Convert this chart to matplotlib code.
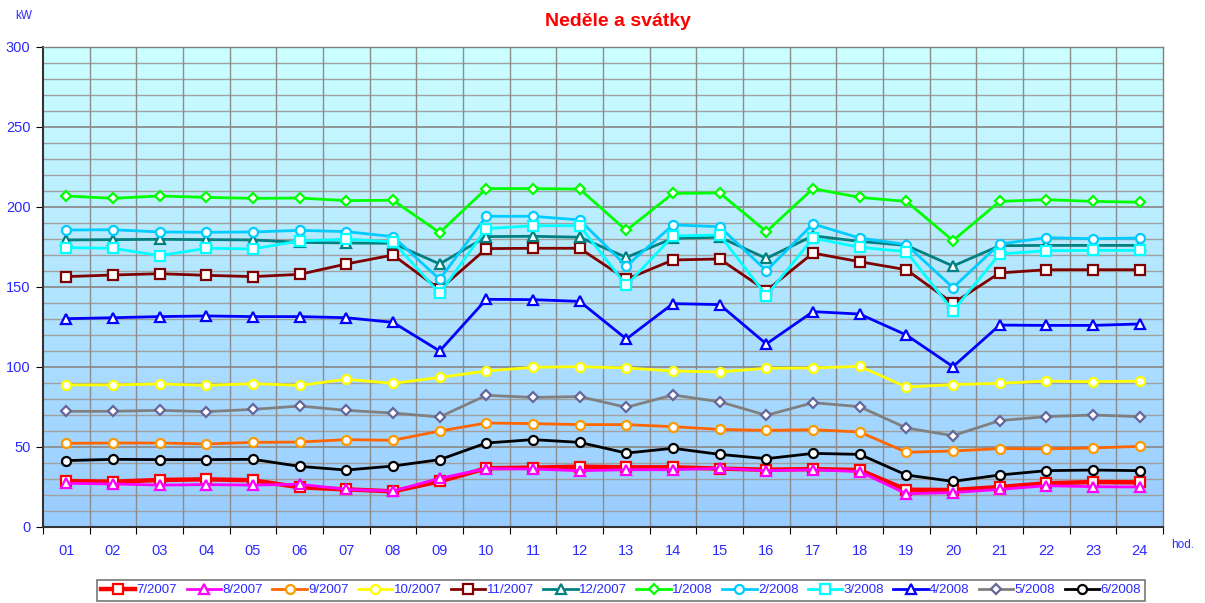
import numpy as np
import matplotlib.pyplot as plt
from matplotlib.colors import LinearSegmentedColormap

plt.rcParams['font.family'] = ['Liberation Sans', 'DejaVu Sans']

hours = ['%02d' % h for h in range(1, 25)]

# kW values, one list per month
m_07_2007 = [28.7, 28.3, 29.4, 29.8, 29.2, 24.8, 23.5, 22.3, 28.5, 36.7, 37.1, 37.7,
             37.3, 37.3, 36.5, 35.8, 36.2, 35.6, 23.3, 23.1, 25.0, 27.3, 28.1, 27.9]
m_08_2007 = [27.3, 26.9, 26.2, 26.5, 26.2, 26.7, 23.5, 22.5, 30.4, 36.5, 36.2, 35.2,
             35.8, 35.8, 36.7, 35.2, 35.8, 34.6, 20.8, 21.5, 23.5, 25.8, 25.2, 25.0]
m_09_2007 = [52.3, 52.5, 52.5, 51.9, 52.9, 53.1, 54.6, 54.2, 60.0, 65.0, 64.6, 64.0,
             64.0, 62.7, 61.0, 60.4, 60.8, 59.4, 46.7, 47.5, 49.0, 48.8, 49.4, 50.4]
m_10_2007 = [88.8, 88.8, 89.4, 88.5, 89.6, 88.5, 92.3, 89.8, 93.5, 97.5, 99.8, 100.2,
             99.4, 97.5, 96.9, 99.2, 99.4, 100.4, 87.5, 89.0, 89.8, 91.2, 90.8, 91.2]
m_11_2007 = [156.5, 157.5, 158.3, 157.3, 156.5, 157.9, 164.4, 170.0, 148.5, 174.0, 174.2, 174.2,
             154.8, 166.9, 167.5, 147.7, 171.2, 165.8, 160.8, 139.8, 158.8, 160.8, 160.8, 160.8]
m_12_2007 = [179.4, 179.6, 179.8, 179.6, 179.4, 177.9, 177.5, 177.3, 164.4, 181.5, 181.7, 181.1,
             168.5, 180.4, 181.1, 167.9, 182.0, 178.5, 176.0, 163.1, 175.8, 176.0, 176.0, 176.0]
m_01_2008 = [206.9, 205.4, 206.9, 206.0, 205.4, 205.6, 204.0, 204.2, 184.0, 211.5, 211.5, 211.2,
             185.4, 208.5, 208.8, 184.6, 211.5, 206.0, 203.5, 179.0, 203.5, 204.6, 203.5, 203.0]
m_02_2008 = [185.6, 185.8, 184.4, 184.2, 184.4, 185.4, 184.6, 181.5, 154.8, 194.2, 194.2, 191.9,
             163.1, 188.8, 187.7, 160.2, 189.4, 180.6, 176.5, 149.6, 176.9, 180.8, 180.2, 180.6]
m_03_2008 = [174.6, 174.2, 169.6, 174.2, 173.8, 178.8, 179.8, 178.3, 146.0, 186.5, 188.3, 188.3,
             151.0, 181.9, 182.5, 144.6, 180.6, 174.8, 172.1, 135.2, 170.6, 172.7, 172.9, 172.9]
m_04_2008 = [130.2, 130.8, 131.5, 131.9, 131.5, 131.5, 130.8, 127.9, 110.0, 142.3, 142.1, 141.0,
             117.5, 139.6, 139.0, 114.4, 134.6, 133.1, 120.0, 100.2, 126.2, 126.0, 126.0, 126.9]
m_05_2008 = [72.3, 72.3, 72.9, 72.1, 73.5, 75.6, 72.9, 71.2, 68.8, 82.3, 81.0, 81.5,
             74.8, 82.5, 78.3, 69.8, 77.7, 75.2, 61.9, 57.1, 66.5, 69.0, 70.0, 69.0]
m_06_2008 = [41.5, 42.3, 42.1, 42.1, 42.3, 37.9, 35.6, 38.1, 42.1, 52.5, 54.6, 52.9,
             46.2, 49.2, 45.4, 42.7, 46.0, 45.4, 32.5, 28.5, 32.5, 35.2, 35.6, 35.2]

series = [
    ('7/2007', m_07_2007, '#ff0000', 's', '#ff0000', 3.2),
    ('8/2007', m_08_2007, '#ff00ff', '^', '#ff00ff', 2.0),
    ('9/2007', m_09_2007, '#ff6600', 'o', '#ff9900', 2.0),
    ('10/2007', m_10_2007, '#ffff00', 'o', '#ffff00', 2.0),
    ('11/2007', m_11_2007, '#800000', 's', '#800000', 2.0),
    ('12/2007', m_12_2007, '#008080', '^', '#008080', 2.0),
    ('1/2008', m_01_2008, '#00ff00', 'D', '#00ff00', 2.0),
    ('2/2008', m_02_2008, '#00ccff', 'o', '#00ccff', 2.0),
    ('3/2008', m_03_2008, '#00ffff', 's', '#00ffff', 2.0),
    ('4/2008', m_04_2008, '#0000ff', '^', '#0000ff', 2.0),
    ('5/2008', m_05_2008, '#808080', 'D', '#666699', 2.0),
    ('6/2008', m_06_2008, '#000000', 'o', '#000000', 2.0),
]

blue = '#2b2bff'
x = np.arange(len(hours))

fig = plt.figure(figsize=(12.05, 6.03), dpi=100)
ax = fig.add_axes([43 / 1205, 1 - 527 / 603, 1120 / 1205, 480 / 603])

# gradient background
cmap = LinearSegmentedColormap.from_list('bg', ['#99ccff', '#ccffff'])
grad = np.linspace(0, 1, 256).reshape(-1, 1)
ax.imshow(grad, cmap=cmap, aspect='auto', origin='lower',
          extent=[-0.5, 23.5, 0, 300], zorder=0)

for v in range(10, 300, 10):
    ax.axhline(v, color='#8c8c8c' if v % 50 == 0 else '#a0a0a0',
               lw=1.3 if v % 50 == 0 else 1.0, zorder=1)
for b in np.arange(0.5, 23.5, 1):
    ax.axvline(b, color='#8c8c8c', lw=1.0, zorder=1)

for label, vals, col, mk, mec, lw in series:
    ms = 5 if mk == 'D' else 6.5
    ax.plot(x, vals, color=col, lw=lw, marker=mk, markersize=ms,
            markerfacecolor='white', markeredgecolor=mec, markeredgewidth=1.6,
            label=label, zorder=3)

ax.set_xlim(-0.5, 23.5)
ax.set_ylim(0, 300)
ax.set_yticks(range(0, 301, 50))
ax.set_xticks(np.arange(-0.5, 24, 1))
ax.set_xticklabels([])
ax.set_xticks(x, minor=True)
ax.set_xticklabels(hours, minor=True)
ax.tick_params(axis='x', which='major', length=5, direction='out', color='black')
ax.tick_params(axis='x', which='minor', length=0, pad=12, labelsize=10.5, labelcolor=blue)
ax.tick_params(axis='y', length=5, direction='out', labelsize=10.5, labelcolor=blue, pad=4)

for s in ['left', 'bottom']:
    ax.spines[s].set_color('#333333')
    ax.spines[s].set_linewidth(1.5)
for s in ['top', 'right']:
    ax.spines[s].set_color('#808080')
    ax.spines[s].set_linewidth(1.0)

fig.text(618 / 1205, 1 - 21 / 603, 'Neděle a svátky', color='#ff0000',
         fontsize=14, fontweight='bold', ha='center', va='center')
fig.text(24 / 1205, 1 - 16 / 603, 'kW', color=blue, fontsize=8.5, ha='center', va='center')
fig.text(1183 / 1205, 1 - 545 / 603, 'hod.', color=blue, fontsize=8.5, ha='center', va='center')

leg = fig.legend(loc='upper center', bbox_to_anchor=(621 / 1205, 1 - 573 / 603), ncol=12,
                 fontsize=9.5, frameon=True, fancybox=False, handlelength=2.6,
                 handletextpad=0.1, columnspacing=0.72, borderpad=0.35)
leg.get_frame().set_edgecolor('#555555')
leg.get_frame().set_linewidth(1.2)
for t in leg.get_texts():
    t.set_color(blue)

plt.savefig('out.png', dpi=100)
